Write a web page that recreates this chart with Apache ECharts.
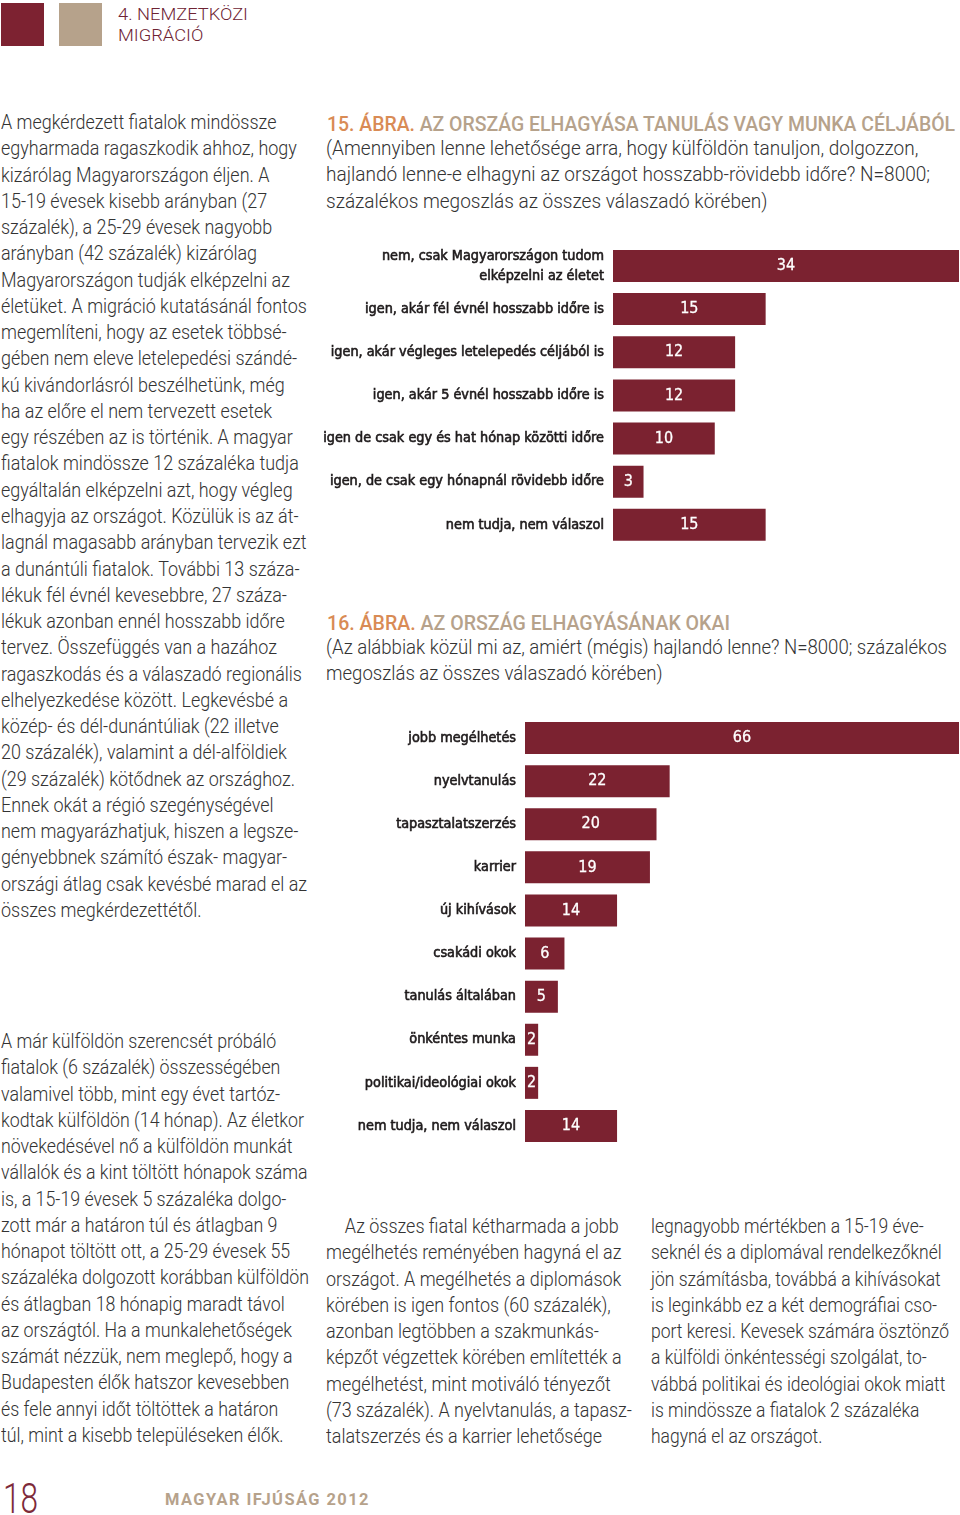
<!DOCTYPE html>
<html>
<head>
<meta charset="utf-8">
<script src="https://cdn.jsdelivr.net/npm/echarts@6/dist/echarts.min.js"></script>
<style>
  html, body { margin: 0; padding: 0; background: #ffffff; }
  #page { position: relative; width: 960px; height: 1515px; overflow: hidden; }
  #chart { position: absolute; left: 0; top: 0; width: 960px; height: 1515px; }
  .txt { position: absolute; white-space: nowrap; font-family: Roboto, 'Open Sans', sans-serif; font-weight: 300; color: #333333; font-size: 21px; line-height: 26.27px; transform-origin: 0 0; }
  .ttl { position: absolute; white-space: nowrap; font-family: Roboto, sans-serif; font-weight: 500; font-size: 20px; color: #b6a28b; line-height: 26px; transform-origin: 0 0; }
  .ttl .n { color: #d98b55; }
  .sq { position: absolute; }
</style>
</head>
<body>
<div id="page">
  <div class="sq" style="left:1px;top:3px;width:43px;height:43px;background:#7d2231;"></div>
  <div class="sq" style="left:59px;top:3px;width:43px;height:43px;background:#b6a28b;"></div>
  <div class="txt" id="hdr" data-w="130" style="left:118px;top:4px;font-size:17px;line-height:20.5px;color:#6e2333;">4. NEMZETKÖZI<br>MIGRÁCIÓ</div>

  <div class="txt" id="p1" data-w="306" style="left:1px;top:109px;"></div>
  <div class="txt" id="p2" data-w="308" style="left:1px;top:1028px;"></div>
  <div class="txt" id="p3" data-w="306" style="left:326px;top:1213px;text-indent:22px;"></div>
  <div class="txt" id="p4" data-w="298" style="left:651px;top:1213px;"></div>

  <div class="ttl" id="t15" data-w="628" style="left:327px;top:111px;"><span class="n">15. ÁBRA.</span> AZ ORSZÁG ELHAGYÁSA TANULÁS VAGY MUNKA CÉLJÁBÓL</div>
  <div class="txt" id="s15" data-w="604" style="left:326px;top:135px;"></div>
  <div class="ttl" id="t16" data-w="403" style="left:327px;top:610px;"><span class="n">16. ÁBRA.</span> AZ ORSZÁG ELHAGYÁSÁNAK OKAI</div>
  <div class="txt" id="s16" data-w="621" style="left:326px;top:634px;"></div>

  <div class="txt" id="pg" data-w="35" style="left:3px;top:1474px;font-size:42px;line-height:50px;color:#7d2a3a;">18</div>
  <div class="txt" id="ft" data-w="205" style="left:165px;top:1489px;font-weight:bold;font-size:17px;line-height:20px;letter-spacing:1.5px;color:#b6a28b;">MAGYAR IFJÚSÁG 2012</div>

  <div id="chart"></div>
</div>
<script>
// ---- Chart 15 data ----
const cats15 = [
  'nem, csak Magyarországon tudom\nelképzelni az életet',
  'igen, akár fél évnél hosszabb időre is',
  'igen, akár végleges letelepedés céljából is',
  'igen, akár 5 évnél hosszabb időre is',
  'igen de csak egy és hat hónap közötti időre',
  'igen, de csak egy hónapnál rövidebb időre',
  'nem tudja, nem válaszol'
];
const vals15 = [34, 15, 12, 12, 10, 3, 15];

// ---- Chart 16 data ----
const cats16 = [
  'jobb megélhetés',
  'nyelvtanulás',
  'tapasztalatszerzés',
  'karrier',
  'új kihívások',
  'csakádi okok',
  'tanulás általában',
  'önkéntes munka',
  'politikai/ideológiai okok',
  'nem tudja, nem válaszol'
];
const vals16 = [66, 22, 20, 19, 14, 6, 5, 2, 2, 14];

// ---- Page text ----
const para1 = [
  'A megkérdezett fiatalok mindössze',
  'egyharmada ragaszkodik ahhoz, hogy',
  'kizárólag Magyarországon éljen. A',
  '15-19 évesek kisebb arányban (27',
  'százalék), a 25-29 évesek nagyobb',
  'arányban (42 százalék) kizárólag',
  'Magyarországon tudják elképzelni az',
  'életüket. A migráció kutatásánál fontos',
  'megemlíteni, hogy az esetek többsé-',
  'gében nem eleve letelepedési szándé-',
  'kú kivándorlásról beszélhetünk, még',
  'ha az előre el nem tervezett esetek',
  'egy részében az is történik. A magyar',
  'fiatalok mindössze 12 százaléka tudja',
  'egyáltalán elképzelni azt, hogy végleg',
  'elhagyja az országot. Közülük is az át-',
  'lagnál magasabb arányban tervezik ezt',
  'a dunántúli fiatalok. További 13 száza-',
  'lékuk fél évnél kevesebbre, 27 száza-',
  'lékuk azonban ennél hosszabb időre',
  'tervez. Összefüggés van a hazához',
  'ragaszkodás és a válaszadó regionális',
  'elhelyezkedése között. Legkevésbé a',
  'közép- és dél-dunántúliak (22 illetve',
  '20 százalék), valamint a dél-alföldiek',
  '(29 százalék) kötődnek az országhoz.',
  'Ennek okát a régió szegénységével',
  'nem magyarázhatjuk, hiszen a legsze-',
  'gényebbnek számító észak- magyar-',
  'országi átlag csak kevésbé marad el az',
  'összes megkérdezettétől.'
];
const para2 = [
  'A már külföldön szerencsét próbáló',
  'fiatalok (6 százalék) összességében',
  'valamivel több, mint egy évet tartóz-',
  'kodtak külföldön (14 hónap). Az életkor',
  'növekedésével nő a külföldön munkát',
  'vállalók és a kint töltött hónapok száma',
  'is, a 15-19 évesek 5 százaléka dolgo-',
  'zott már a határon túl és átlagban 9',
  'hónapot töltött ott, a 25-29 évesek 55',
  'százaléka dolgozott korábban külföldön',
  'és átlagban 18 hónapig maradt távol',
  'az országtól. Ha a munkalehetőségek',
  'számát nézzük, nem meglepő, hogy a',
  'Budapesten élők hatszor kevesebben',
  'és fele annyi időt töltöttek a határon',
  'túl, mint a kisebb településeken élők.'
];
const para3 = [
  'Az összes fiatal kétharmada a jobb',
  'megélhetés reményében hagyná el az',
  'országot. A megélhetés a diplomások',
  'körében is igen fontos (60 százalék),',
  'azonban legtöbben a szakmunkás-',
  'képzőt végzettek körében említették a',
  'megélhetést, mint motiváló tényezőt',
  '(73 százalék). A nyelvtanulás, a tapasz-',
  'talatszerzés és a karrier lehetősége'
];
const para4 = [
  'legnagyobb mértékben a 15-19 éve-',
  'seknél és a diplomával rendelkezőknél',
  'jön számításba, továbbá a kihívásokat',
  'is leginkább ez a két demográfiai cso-',
  'port keresi. Kevesek számára ösztönző',
  'a külföldi önkéntességi szolgálat, to-',
  'vábbá politikai és ideológiai okok miatt',
  'is mindössze a fiatalok 2 százaléka',
  'hagyná el az országot.'
];
const sub15 = [
  '(Amennyiben lenne lehetősége arra, hogy külföldön tanuljon, dolgozzon,',
  'hajlandó lenne-e elhagyni az országot hosszabb-rövidebb időre? N=8000;',
  'százalékos megoszlás az összes válaszadó körében)'
];
const sub16 = [
  '(Az alábbiak közül mi az, amiért (mégis) hajlandó lenne? N=8000; százalékos',
  'megoszlás az összes válaszadó körében)'
];

function fill(id, lines) {
  const el = document.getElementById(id);
  lines.forEach(function (l, i) {
    if (i) el.appendChild(document.createElement('br'));
    el.appendChild(document.createTextNode(l));
  });
}
fill('p1', para1); fill('p2', para2); fill('p3', para3); fill('p4', para4);
fill('s15', sub15); fill('s16', sub16);

// condense each text block horizontally to the width it has on the page
document.querySelectorAll('[data-w]').forEach(function (el) {
  const w = el.getBoundingClientRect().width;
  const target = parseFloat(el.getAttribute('data-w'));
  if (w > 0) el.style.transform = 'scaleX(' + (target / w) + ')';
});

const barColor = '#7b2230';
const labFont = "'DejaVu Sans Condensed', 'Liberation Sans', sans-serif";
const labStyle = {
  margin: 9, color: '#1e1a1b', fontFamily: labFont, fontWeight: 'normal', fontSize: 14.3,
  textBorderColor: '#1e1a1b', textBorderWidth: 0.6, align: 'right'
};
const valStyle = {
  show: true, position: 'inside', color: '#ffffff', fontFamily: labFont, fontSize: 16,
  textBorderColor: '#ffffff', textBorderWidth: 0.3
};

const chart = echarts.init(document.getElementById('chart'), null, { renderer: 'canvas' });
chart.setOption({
  animation: false,
  grid: [
    { left: 613, top: 244.4, width: 346, height: 302 },
    { left: 525, top: 716.5, width: 434, height: 431 }
  ],
  xAxis: [
    { gridIndex: 0, type: 'value', min: 0, max: 34, show: false },
    { gridIndex: 1, type: 'value', min: 0, max: 66, show: false }
  ],
  yAxis: [
    {
      gridIndex: 0, type: 'category', data: cats15, inverse: true,
      axisLine: { show: false }, axisTick: { show: false }, splitLine: { show: false },
      axisLabel: Object.assign({ lineHeight: 20 }, labStyle)
    },
    {
      gridIndex: 1, type: 'category', data: cats16, inverse: true,
      axisLine: { show: false }, axisTick: { show: false }, splitLine: { show: false },
      axisLabel: Object.assign({}, labStyle)
    }
  ],
  series: [
    {
      type: 'bar', xAxisIndex: 0, yAxisIndex: 0, data: vals15, barWidth: 32,
      itemStyle: { color: barColor }, label: valStyle
    },
    {
      type: 'bar', xAxisIndex: 1, yAxisIndex: 1, data: vals16, barWidth: 32,
      itemStyle: { color: barColor }, label: valStyle
    }
  ]
});
</script>
</body>
</html>
